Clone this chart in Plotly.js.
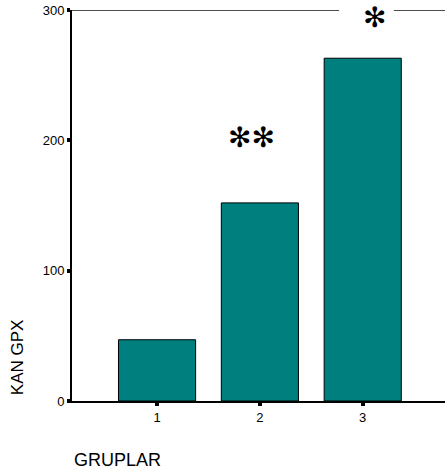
<!DOCTYPE html>
<html><head><meta charset="utf-8">
<script src="https://cdn.plot.ly/plotly-3.0.1.min.js"></script>
<style>html,body{margin:0;padding:0;background:#fff}#c{width:445px;height:473px}</style>
</head><body><div id="c"></div>
<script>
const categories = ['1', '2', '3'];
const values = [47, 152, 263];
const yTicks = [0, 100, 200, 300];
const marks = ['\u273B\u273B', '\u273B'];
const yTitle = 'KAN GPX';
const xTitle = 'GRUPLAR';

const font = 'Liberation Sans, Arial, sans-serif';
const trace = {
  type: 'bar', x: categories, y: values,
  marker: {color: '#007f7f', line: {color: '#000', width: 1}},
  hoverinfo: 'none'
};
const layout = {
  width: 445, height: 473,
  margin: {l: 72, r: 0, t: 10, b: 72},
  paper_bgcolor: '#fff', plot_bgcolor: '#fff',
  bargap: 0.25,
  showlegend: false,
  font: {family: font, size: 13, color: '#000'},
  xaxis: {type: 'category', range: [-0.827, 2.80], showgrid: false, zeroline: false,
    showline: true, linecolor: '#000', linewidth: 2,
    ticks: 'outside', ticklen: 3, tickwidth: 4, tickcolor: '#000',
    tickfont: {family: font, size: 13}},
  yaxis: {range: [0, 300], tickvals: yTicks, showgrid: false, zeroline: false,
    showline: true, linecolor: '#000', linewidth: 2,
    ticks: 'outside', ticklen: 3, tickwidth: 4, tickcolor: '#000',
    tickfont: {family: font, size: 13}},
  shapes: [
    {type: 'line', xref: 'paper', yref: 'y', x0: 0, x1: 0.716, y0: 300, y1: 300, line: {color: '#111', width: 1.3}},
    {type: 'line', xref: 'paper', yref: 'y', x0: 0.863, x1: 1, y0: 300, y1: 300, line: {color: '#111', width: 1.3}}
  ],
  annotations: [
    {text: marks[0], x: 0.915, y: 202, xref: 'x', yref: 'y', showarrow: false, font: {family: 'DejaVu Sans', size: 28, color: '#000'}},
    {text: marks[1], x: 2.112, y: 294, xref: 'x', yref: 'y', showarrow: false, font: {family: 'DejaVu Sans', size: 28, color: '#000'}},
    {text: yTitle, xref: 'paper', yref: 'paper', x: -0.147, y: 0.1125, xanchor: 'center', yanchor: 'middle', textangle: -90, showarrow: false, font: {family: font, size: 17}},
    {text: xTitle, xref: 'paper', yref: 'paper', x: 0, y: -0.151, xanchor: 'left', yanchor: 'middle', showarrow: false, font: {family: font, size: 18}}
  ]
};
Plotly.newPlot('c', [trace], layout, {displayModeBar: false, staticPlot: true});
</script>
</body></html>
